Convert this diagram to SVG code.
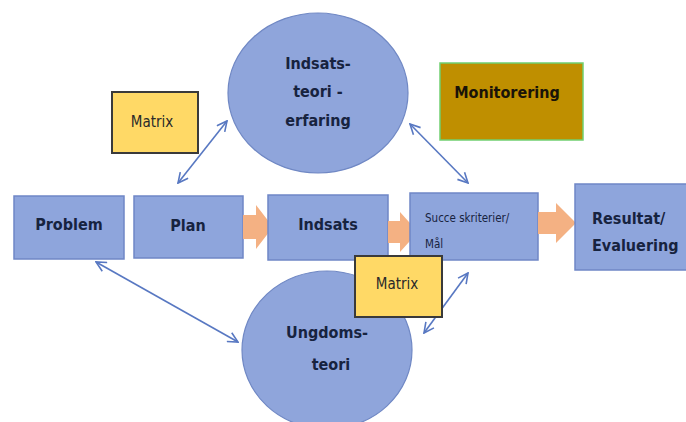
<svg xmlns="http://www.w3.org/2000/svg" width="686" height="422" viewBox="0 0 686 422">
<defs>
<style>
.box{fill:#8EA5DC;stroke:#6F87C6;stroke-width:1.5}
.circ{fill:#8FA5DB;stroke:#7088C4;stroke-width:1.2}
.mtx{fill:#FFD966;stroke:#3A3A3A;stroke-width:2}
.mon{fill:#BF8F00;stroke:#70D070;stroke-width:1.5}
.t{font-family:"DejaVu Sans Condensed","Liberation Sans",sans-serif;font-weight:bold;fill:#17233F;text-anchor:middle}
.lbl{font-size:16px}
.m{font-family:"DejaVu Sans Condensed","Liberation Sans",sans-serif;font-size:15px;fill:#2A2A2A;text-anchor:middle}
.conn{stroke:#5878C2;stroke-width:1.6;fill:none;marker-start:url(#ah);marker-end:url(#ah)}
.oa{fill:#F4B183}
</style>
<marker id="ah" viewBox="0 0 12 12" refX="11" refY="6" markerWidth="12" markerHeight="12" markerUnits="userSpaceOnUse" orient="auto-start-reverse">
<path d="M1,1 L11,6 L1,11" fill="none" stroke="#5878C2" stroke-width="1.6"/>
</marker>
</defs>
<rect width="686" height="422" fill="#FFFFFF"/>

<g id="connectors">
<line class="conn" x1="178" y1="183" x2="227" y2="121"/>
<line class="conn" x1="468" y1="183" x2="410" y2="124"/>
<line class="conn" x1="96" y1="262" x2="238" y2="342"/>
<line class="conn" x1="424" y1="333" x2="468" y2="273"/>
</g>

<g id="top-circle">
<ellipse class="circ" cx="318" cy="93" rx="90" ry="80"/>
<text class="t lbl" x="318" y="69">Indsats-</text>
<text class="t lbl" x="318" y="97">teori -</text>
<text class="t lbl" x="318" y="126">erfaring</text>
</g>

<g id="matrix-top">
<rect class="mtx" x="112" y="92" width="86" height="61"/>
<text class="m" x="152" y="127">Matrix</text>
</g>

<g id="monitorering">
<rect class="mon" x="440" y="63" width="143" height="77"/>
<text class="t" x="507" y="98" style="font-size:16px;font-weight:bold;fill:#1A1408">Monitorering</text>
</g>

<g id="problem">
<rect class="box" x="14" y="196" width="110" height="63"/>
<text class="t lbl" x="69" y="230">Problem</text>
</g>

<g id="plan">
<rect class="box" x="134" y="196" width="109" height="62"/>
<text class="t lbl" x="188" y="231">Plan</text>
</g>

<g id="arrow-plan-indsats">
<path class="oa" d="M243,215 L256,215 L256,205 L273,227 L256,249 L256,239 L243,239 Z"/>
</g>

<g id="indsats">
<rect class="box" x="268" y="195" width="120" height="65"/>
<text class="t lbl" x="328" y="230">Indsats</text>
</g>

<g id="arrow-indsats-succes">
<path class="oa" d="M388,221 L400,221 L400,212 L418,232 L400,252 L400,243 L388,243 Z"/>
</g>

<g id="succes">
<rect class="box" x="410" y="193" width="128" height="67"/>
<text class="t" x="425" y="222" style="font-size:11.5px;text-anchor:start;font-weight:normal">Succe skriterier/</text>
<text class="t" x="425" y="248" style="font-size:11.5px;text-anchor:start;font-weight:normal">Mål</text>
</g>

<g id="arrow-succes-resultat">
<path class="oa" d="M538,212 L556,212 L556,203 L576,223 L556,243 L556,234 L538,234 Z"/>
</g>

<g id="resultat">
<rect class="box" x="575" y="184" width="113" height="86"/>
<text class="t lbl" x="592" y="224" style="text-anchor:start">Resultat/</text>
<text class="t lbl" x="592" y="251" style="text-anchor:start">Evaluering</text>
</g>

<g id="bottom-circle">
<ellipse class="circ" cx="327" cy="350" rx="85" ry="79"/>
<text class="t lbl" x="327" y="338">Ungdoms-</text>
<text class="t lbl" x="331" y="370">teori</text>
</g>

<g id="matrix-bottom">
<rect class="mtx" x="355" y="256" width="87" height="61"/>
<text class="m" x="397" y="289">Matrix</text>
</g>
</svg>
